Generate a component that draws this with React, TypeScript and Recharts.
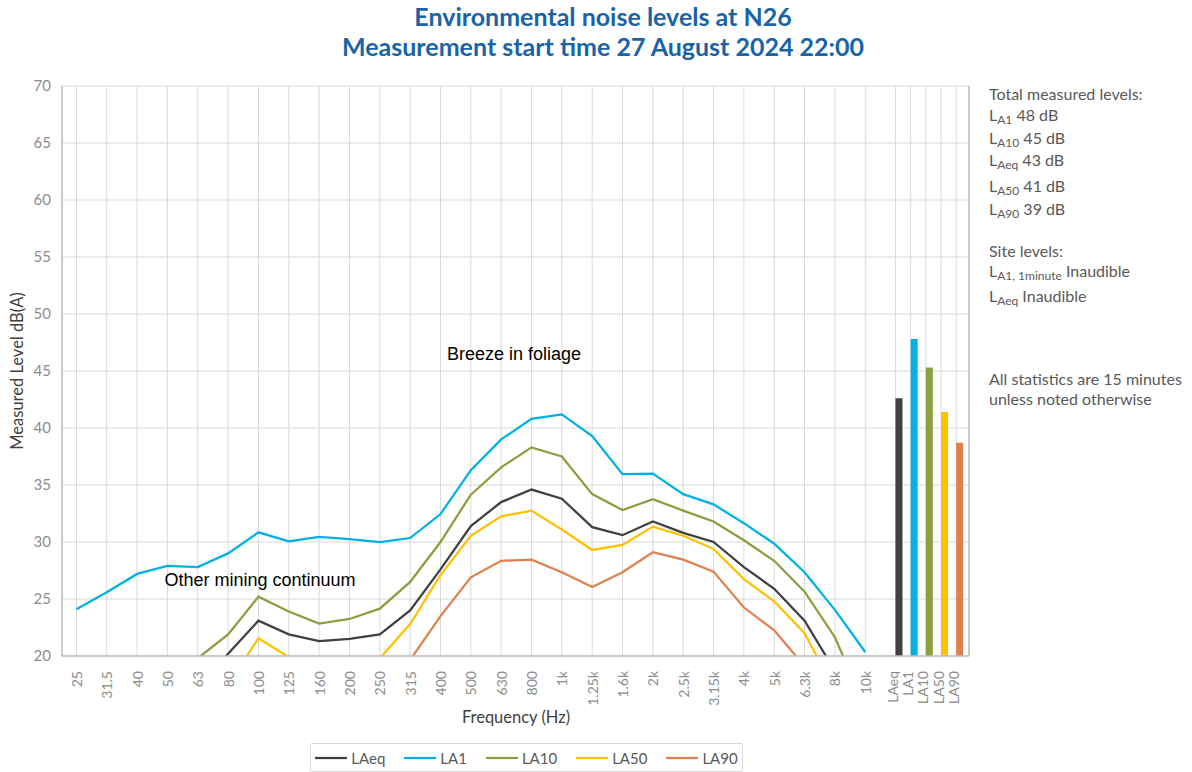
// Environmental noise levels at N26 — 1/3 octave spectrum + total level bars

import React from 'react'
import {
  ComposedChart,
  Line,
  Bar,
  Cell,
  XAxis,
  YAxis,
  CartesianGrid,
  ReferenceLine,
} from 'recharts'

// ---- data ----
const FREQUENCIES = [
  '25', '31.5', '40', '50', '63', '80', '100', '125', '160', '200', '250', '315', '400',
  '500', '630', '800', '1k', '1.25k', '1.6k', '2k', '2.5k', '3.15k', '4k', '5k', '6.3k', '8k', '10k',
]

const LAEQ = [
  15, 15.5, 16, 16.5, 17.3, 20.2, 23.1, 21.9, 21.3, 21.5, 21.9, 24.0, 27.6,
  31.4, 33.5, 34.6, 33.8, 31.3, 30.6, 31.8, 30.8, 30.0, 27.8, 25.9, 23.1, 18.7, 15,
]
const LA1 = [
  24.1, 25.6, 27.2, 27.9, 27.8, 29.0, 30.85, 30.05, 30.45, 30.25, 30.0, 30.35, 32.45,
  36.3, 39.0, 40.8, 41.2, 39.3, 35.95, 36.0, 34.2, 33.3, 31.65, 29.85, 27.35, 24.05, 20.35,
]
const LA10 = [
  16, 16.5, 17, 18, 19.8, 21.9, 25.2, 23.9, 22.85, 23.25, 24.15, 26.5, 30.0,
  34.15, 36.55, 38.3, 37.5, 34.2, 32.8, 33.75, 32.75, 31.8, 30.15, 28.35, 25.65, 21.65, 15.5,
]
const LA50 = [
  13, 13.5, 14, 14.5, 15.5, 17.5, 21.55, 19.9, 18.6, 18.8, 19.8, 22.8, 27.1,
  30.55, 32.25, 32.75, 31.1, 29.3, 29.75, 31.35, 30.55, 29.4, 26.75, 24.8, 22.0, 17, 14,
]
const LA90 = [
  12, 12.5, 13, 13.5, 14, 15, 16, 16.5, 16, 16.5, 17.5, 19.65, 23.5,
  26.9, 28.35, 28.45, 27.35, 26.05, 27.35, 29.1, 28.45, 27.4, 24.25, 22.25, 19.1, 16, 13,
]

const TOTAL_LABELS = ['LAeq', 'LA1', 'LA10', 'LA50', 'LA90']
const TOTAL_LEVELS = [42.6, 47.8, 45.3, 41.4, 38.7]

const Y_TICKS = [20, 25, 30, 35, 40, 45, 50, 55, 60, 65, 70]
const Y_MINOR_TICKS = Array.from({ length: 51 }, (_, i) => 20 + i)

const SERIES = [
  { key: 'LAeq', color: '#404040', values: LAEQ },
  { key: 'LA1', color: '#00B0E6', values: LA1 },
  { key: 'LA10', color: '#88A03E', values: LA10 },
  { key: 'LA50', color: '#FFC000', values: LA50 },
  { key: 'LA90', color: '#E0804F', values: LA90 },
]

// ---- layout ----
const W = 1192
const H = 772
const X_DOMAIN: [number, number] = [-0.475, 29.42]
const BAR_SLOT0 = 27 // first slot after 10k
const BAR_STEP = 0.5
const BAR_CENTER = 0.115 // bars sit just right of their grid line

const FONT = 'Lato, "Open Sans", sans-serif'
const ARIAL = '"Liberation Sans", Arial, sans-serif'
const GRID = '#d9d9d9'
const AXIS = '#bfbfbf'
const TICK = '#8c8c8c'
const TEXT = '#595959'

const barSlots = TOTAL_LABELS.map((_, i) => BAR_SLOT0 + i * BAR_STEP)

const data: Record<string, unknown>[] = [
  ...FREQUENCIES.map((f, i) => {
    const row: Record<string, unknown> = { x: i, label: f }
    SERIES.forEach((s) => { row[s.key] = s.values[i] })
    return row
  }),
  ...TOTAL_LABELS.map((l, i) => ({
    x: barSlots[i] + BAR_CENTER,
    label: l,
    total: TOTAL_LEVELS[i],
    color: SERIES.find((s) => s.key === l)!.color,
  })),
]

const xTicks = [...FREQUENCIES.map((_, i) => i), ...barSlots]

function tickLabel(v: number) {
  if (v < BAR_SLOT0 - 0.25) return FREQUENCIES[Math.round(v)]
  return TOTAL_LABELS[Math.round((v - BAR_SLOT0) / BAR_STEP)]
}

function XTick({ x, y, payload }: any) {
  const v = payload.value as number
  const isBar = v >= BAR_SLOT0 - 0.25
  const tx = isBar ? x - 3 : x
  return (
    <text
      x={tx}
      y={y}
      transform={`rotate(-90, ${tx}, ${y})`}
      textAnchor="end"
      dominantBaseline="central"
      fill={TICK}
      fontSize={14}
      fontFamily={FONT}
    >
      {tickLabel(v)}
    </text>
  )
}

function Sub({ main, sub, rest, y }: { main: string; sub: string; rest: string; y: number }) {
  return (
    <text x={989} y={y} fontSize={16} fill={TEXT} fontFamily={FONT}>
      <tspan>{main}</tspan>
      <tspan fontSize={12} dy={3}>{sub}</tspan>
      <tspan dy={-3}>{' ' + rest}</tspan>
    </text>
  )
}

function LegendBox() {
  return (
    <div
      style={{
        position: 'absolute',
        left: 310,
        top: 743,
        width: 431,
        height: 27,
        border: '1px solid #d9d9d9',
        borderRadius: 2,
        display: 'flex',
        alignItems: 'center',
        justifyContent: 'center',
        gap: 19,
        fontFamily: FONT,
        fontSize: 15,
        color: TEXT,
      }}
    >
      {SERIES.map((s) => (
        <div key={s.key} style={{ display: 'flex', alignItems: 'center', gap: 4 }}>
          <svg width={32} height={4}>
            <line x1={0} y1={2} x2={32} y2={2} stroke={s.color} strokeWidth={2.25} />
          </svg>
          <span>{s.key}</span>
        </div>
      ))}
    </div>
  )
}

export default function App() {
  return (
    <div style={{ position: 'absolute', left: 0, top: 0, width: W, height: H, background: '#fff' }}>
      <ComposedChart
        width={W}
        height={H}
        data={data}
        margin={{ top: 86, right: 223, left: 2, bottom: 56 }}
      >
        <CartesianGrid stroke={GRID} strokeWidth={1} />
        <XAxis
          type="number"
          dataKey="x"
          domain={X_DOMAIN}
          allowDataOverflow
          ticks={xTicks}
          interval={0}
          tick={<XTick />}
          tickLine={false}
          tickSize={0}
          tickMargin={15}
          axisLine={{ stroke: AXIS, strokeWidth: 1.5 }}
          height={60}
        />
        <YAxis
          type="number"
          domain={[20, 70]}
          allowDataOverflow
          ticks={Y_TICKS}
          interval={0}
          tick={{ fill: TICK, fontSize: 15, fontFamily: FONT }}
          tickLine={false}
          tickSize={0}
          tickMargin={11}
          axisLine={{ stroke: AXIS, strokeWidth: 1.5 }}
          width={60}
        />
        <YAxis
          yAxisId="minor"
          type="number"
          domain={[20, 70]}
          ticks={Y_MINOR_TICKS}
          interval={0}
          mirror
          tick={false}
          tickLine={{ stroke: AXIS }}
          tickSize={3}
          axisLine={false}
        />
        <ReferenceLine x={X_DOMAIN[1]} stroke={AXIS} strokeWidth={1.5} />
        {SERIES.map((s) => (
          <Line
            key={s.key}
            type="linear"
            dataKey={s.key}
            stroke={s.color}
            strokeWidth={2.25}
            dot={false}
            activeDot={false}
            isAnimationActive={false}
          />
        ))}
        <Bar dataKey="total" barSize={7} isAnimationActive={false}>
          {data.map((d, i) => (
            <Cell key={i} fill={(d.color as string) || 'transparent'} />
          ))}
        </Bar>
      </ComposedChart>

      <svg
        width={W}
        height={H}
        style={{ position: 'absolute', left: 0, top: 0, pointerEvents: 'none' }}
      >
        <text x={603} y={26} textAnchor="middle" fontSize={25} fontWeight="bold" fill="#1A63A6" fontFamily={FONT}>
          Environmental noise levels at N26
        </text>
        <text x={603} y={56} textAnchor="middle" fontSize={25} fontWeight="bold" fill="#1A63A6" fontFamily={FONT}>
          Measurement start time 27 August 2024 22:00
        </text>

        <text
          x={23}
          y={371}
          transform="rotate(-90, 23, 371)"
          textAnchor="middle"
          fontSize={16.5}
          fill="#404040"
          fontFamily={FONT}
        >
          Measured Level dB(A)
        </text>
        <text x={516} y={723} textAnchor="middle" fontSize={16.5} fill="#404040" fontFamily={FONT}>
          Frequency (Hz)
        </text>

        <text x={514} y={360} textAnchor="middle" fontSize={18} fill="#000" fontFamily={ARIAL}>
          Breeze in foliage
        </text>
        <text x={260} y={586} textAnchor="middle" fontSize={18} fill="#000" fontFamily={ARIAL}>
          Other mining continuum
        </text>

        <text x={989} y={100} fontSize={16} fill={TEXT} fontFamily={FONT}>Total measured levels:</text>
        <Sub main="L" sub="A1" rest="48 dB" y={121} />
        <Sub main="L" sub="A10" rest="45 dB" y={144} />
        <Sub main="L" sub="Aeq" rest="43 dB" y={166} />
        <Sub main="L" sub="A50" rest="41 dB" y={192} />
        <Sub main="L" sub="A90" rest="39 dB" y={215} />
        <text x={989} y={257} fontSize={16} fill={TEXT} fontFamily={FONT}>Site levels:</text>
        <Sub main="L" sub="A1, 1minute" rest="Inaudible" y={277} />
        <Sub main="L" sub="Aeq" rest="Inaudible" y={302} />
        <text x={989} y={385} fontSize={16} fill={TEXT} fontFamily={FONT}>All statistics are 15 minutes</text>
        <text x={989} y={405} fontSize={16} fill={TEXT} fontFamily={FONT}>unless noted otherwise</text>
      </svg>

      <LegendBox />
    </div>
  )
}
